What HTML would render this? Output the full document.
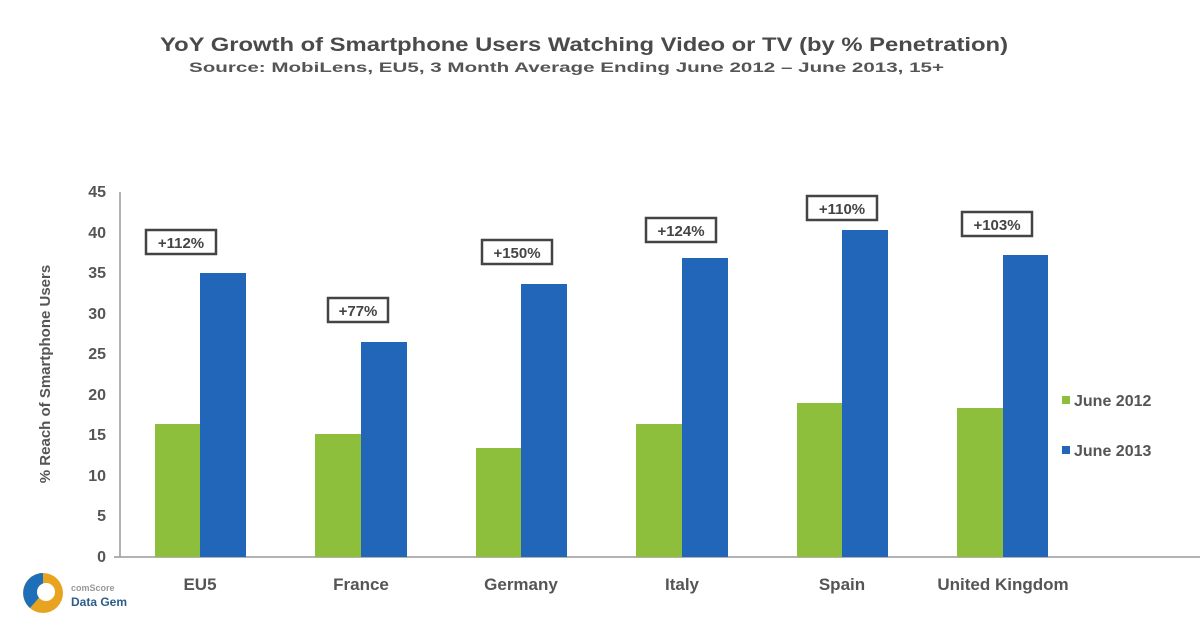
<!DOCTYPE html>
<html><head><style>body{margin:0;background:#fff}svg{display:block}text{font-family:"Liberation Sans",sans-serif;font-weight:bold}</style></head><body>
<svg width="1200" height="624" viewBox="0 0 1200 624">
<text x="160" y="51" font-size="19" fill="#4a4a4a" textLength="848" lengthAdjust="spacingAndGlyphs">YoY Growth of Smartphone Users Watching Video or TV (by % Penetration)</text>
<text x="189" y="72" font-size="14" fill="#555" textLength="755" lengthAdjust="spacingAndGlyphs">Source: MobiLens, EU5, 3 Month Average Ending June 2012 – June 2013, 15+</text>
<g stroke="#999" stroke-width="1.5">
<line x1="120" y1="192" x2="120" y2="557"/><line x1="114" y1="557" x2="1200" y2="557"/>
</g>
<g font-size="16" fill="#555" text-anchor="end">
<text x="106" y="562">0</text><text x="106" y="521">5</text><text x="106" y="481">10</text><text x="106" y="440">15</text><text x="106" y="400">20</text><text x="106" y="359">25</text><text x="106" y="319">30</text><text x="106" y="278">35</text><text x="106" y="238">40</text><text x="106" y="197">45</text>
</g>
<text transform="translate(50,374) rotate(-90)" text-anchor="middle" font-size="15" fill="#555">% Reach of Smartphone Users</text>
<g fill="#8dbf3c">
<rect x="155" y="424" width="45" height="133"/><rect x="315" y="434" width="46" height="123"/><rect x="476" y="448" width="45" height="109"/><rect x="636" y="424" width="46" height="133"/><rect x="797" y="403" width="45" height="154"/><rect x="957" y="408" width="46" height="149"/>
</g>
<g fill="#2266b9">
<rect x="200" y="273" width="46" height="284"/><rect x="361" y="342" width="46" height="215"/><rect x="521" y="284" width="46" height="273"/><rect x="682" y="258" width="46" height="299"/><rect x="842" y="230" width="46" height="327"/><rect x="1003" y="255" width="45" height="302"/>
</g>
<g fill="#fff" stroke="#444" stroke-width="2.5">
<rect x="146" y="230" width="70" height="24"/><rect x="328" y="298" width="60" height="24"/><rect x="482" y="240" width="70" height="24"/><rect x="646" y="218" width="70" height="24"/><rect x="807" y="196" width="70" height="24"/><rect x="962" y="212" width="70" height="24"/>
</g>
<g font-size="15" fill="#444" text-anchor="middle">
<text x="181" y="248">+112%</text><text x="358" y="316">+77%</text><text x="517" y="258">+150%</text><text x="681" y="236">+124%</text><text x="842" y="214">+110%</text><text x="997" y="230">+103%</text>
</g>
<g font-size="17" fill="#555" text-anchor="middle">
<text x="200" y="590">EU5</text><text x="361" y="590">France</text><text x="521" y="590">Germany</text><text x="682" y="590">Italy</text><text x="842" y="590">Spain</text><text x="1003" y="590">United Kingdom</text>
</g>
<rect x="1062" y="396" width="8" height="8" fill="#8dbf3c"/><text x="1074" y="406" font-size="16" fill="#555">June 2012</text>
<rect x="1062" y="446" width="8" height="8" fill="#2266b9"/><text x="1074" y="456" font-size="16" fill="#555">June 2013</text>
<circle cx="43" cy="593" r="20" fill="#e8a320"/><path d="M43 573 A20 20 0 0 0 30 608 L43 593Z" fill="#1c6fb8"/><circle cx="46" cy="592" r="9" fill="#fff"/>
<text x="71" y="591" font-size="9" fill="#999" font-weight="normal">comScore</text>
<text x="71" y="606" font-size="12" fill="#2b5c8a">Data Gem</text>
</svg>
</body></html>
